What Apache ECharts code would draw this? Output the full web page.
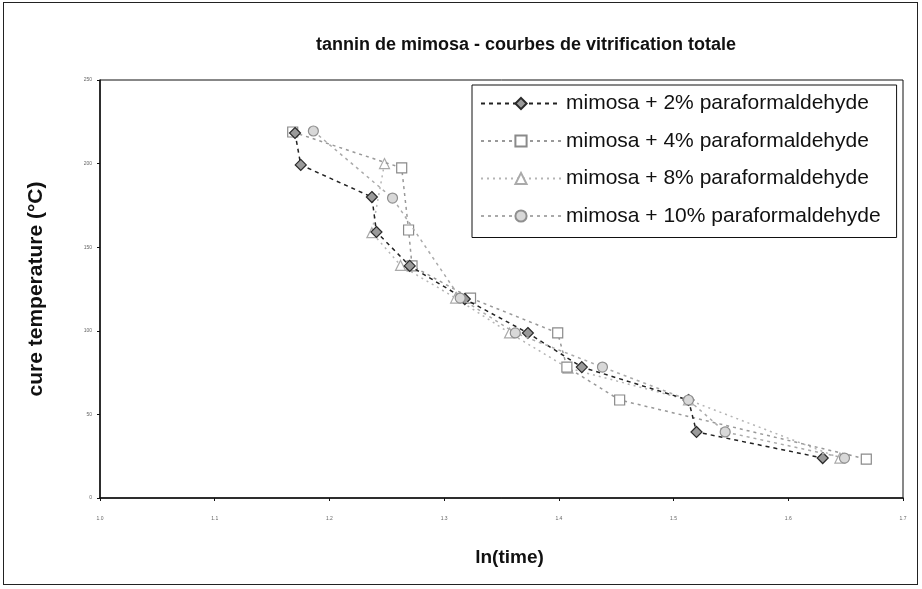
<!DOCTYPE html>
<html>
<head>
<meta charset="utf-8">
<script src="https://cdn.jsdelivr.net/npm/echarts@6/dist/echarts.min.js"></script>
<style>
  html, body { margin: 0; padding: 0; background: #fff; }
  #chart { width: 922px; height: 589px; }
  #frame { position: absolute; left: 3px; top: 2px; width: 915px; height: 583px; border: 1px solid #222; box-sizing: border-box; pointer-events: none; }
</style>
</head>
<body>
<div id="chart"></div>
<div id="frame"></div>
<script>
// ln(time) vs. cure temperature (°C) for each paraformaldehyde level
const seriesNames = [
  'mimosa + 2% paraformaldehyde',
  'mimosa + 4% paraformaldehyde',
  'mimosa + 8% paraformaldehyde',
  'mimosa + 10% paraformaldehyde'
];

const para2 = [
  [1.170, 218.3], [1.175, 199.2], [1.237, 180.0], [1.241, 159.1], [1.270, 138.8],
  [1.318, 119.0], [1.373, 98.7], [1.420, 78.3], [1.513, 58.6], [1.520, 39.5], [1.630, 23.9]
];
const para4 = [
  [1.168, 218.9], [1.263, 197.4], [1.269, 160.3], [1.272, 138.8], [1.323, 119.6],
  [1.399, 98.7], [1.407, 78.3], [1.453, 58.6], [1.668, 23.3]
];
const para8 = [
  [1.248, 200.0], [1.237, 158.7], [1.262, 139.1], [1.310, 119.6], [1.357, 98.7],
  [1.408, 77.7], [1.513, 58.6], [1.645, 23.9]
];
const para10 = [
  [1.186, 219.5], [1.255, 179.4], [1.314, 119.6], [1.362, 98.7], [1.438, 78.3],
  [1.513, 58.6], [1.545, 39.5], [1.649, 23.9]
];

const xMin = 1.0, xMax = 1.7, xStep = 0.1;
const yMin = 0, yMax = 250, yStep = 50;

const styles = [
  { color: '#2a2a2a', symbol: 'diamond', size: 11, fill: '#9a9a9a', lineColor: '#222', dash: [4, 4], z: 9 },
  { color: '#8a8a8a', symbol: 'rect', size: 10, fill: '#ffffff', lineColor: '#999', dash: [3, 4], z: 8 },
  { color: '#aaaaaa', symbol: 'triangle', size: 10, fill: '#ffffff', lineColor: '#b5b5b5', dash: [2, 4], z: 7 },
  { color: '#8f8f8f', symbol: 'circle', size: 10, fill: '#d8d8d8', lineColor: '#aaa', dash: [3, 4], z: 10 }
];
const allData = [para2, para4, para8, para10];

const font = 'Liberation Sans, Arial, sans-serif';
const chart = echarts.init(document.getElementById('chart'), null, { renderer: 'canvas' });

chart.setOption({
  animation: false,
  backgroundColor: '#fff',
  title: {
    text: 'tannin de mimosa - courbes de vitrification totale',
    left: 521, top: 31, textAlign: 'center',
    textStyle: { fontFamily: font, fontSize: 18, fontWeight: 'bold', color: '#111' }
  },
  grid: {
    left: 100, right: 19, top: 80, bottom: 91,
    show: true, borderColor: '#111', borderWidth: 1, backgroundColor: '#fff'
  },
  legend: {
    orient: 'vertical',
    left: 472, top: 85,
    padding: [8, 16, 11, 8],
    itemWidth: 80, itemHeight: 14, itemGap: 16.5,
    borderColor: '#111', borderWidth: 1, backgroundColor: '#fff',
    textStyle: { fontFamily: font, fontSize: 21, color: '#111' },
    data: seriesNames
  },
  xAxis: {
    type: 'value', min: xMin, max: xMax, interval: xStep,
    name: 'ln(time)', nameLocation: 'middle', nameGap: 50,
    nameTextStyle: { fontFamily: font, fontSize: 19, fontWeight: 'bold', color: '#111', padding: [0, 0, 0, 16] },
    axisLine: { lineStyle: { color: '#111', width: 1.5 } },
    axisTick: { show: true, length: 3, inside: false, lineStyle: { color: '#111' } },
    axisLabel: { fontSize: 5, color: '#666', margin: 18, formatter: v => v.toFixed(1) },
    splitLine: { show: false }
  },
  yAxis: {
    type: 'value', min: yMin, max: yMax, interval: yStep,
    name: 'cure temperature (°C)', nameLocation: 'middle', nameGap: 53, nameRotate: 90,
    nameTextStyle: { fontFamily: font, fontSize: 21, fontWeight: 'bold', color: '#111' },
    axisLine: { show: true, lineStyle: { color: '#111', width: 1.5 } },
    axisTick: { show: true, length: 3, lineStyle: { color: '#111' } },
    axisLabel: { fontSize: 5, color: '#666', margin: 8 },
    splitLine: { show: false }
  },
  series: allData.map((d, i) => ({
    name: seriesNames[i],
    type: 'line',
    data: d,
    symbol: styles[i].symbol,
    symbolSize: styles[i].size,
    itemStyle: { color: styles[i].fill, borderColor: styles[i].color, borderWidth: 1.2 },
    lineStyle: { color: styles[i].lineColor, width: 1.5, type: styles[i].dash },
    z: styles[i].z
  }))
});
</script>
</body>
</html>
